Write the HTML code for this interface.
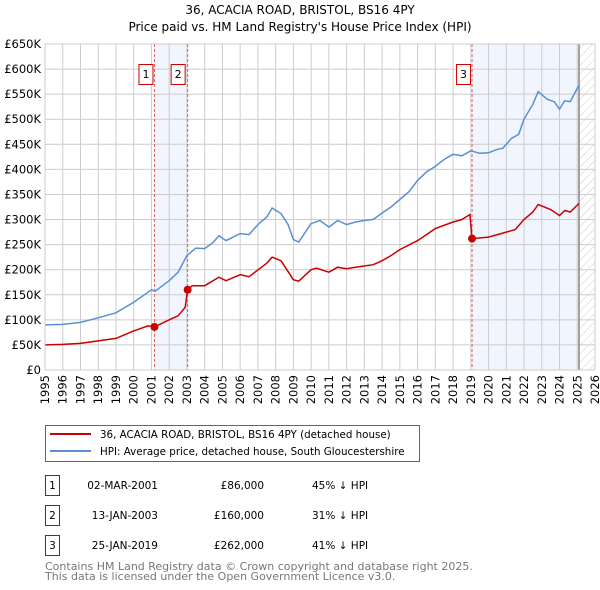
<!DOCTYPE html>
<html><head><meta charset="utf-8"><style>
body{margin:0;background:#fff;}
svg{display:block;font-family:"DejaVu Sans","Liberation Sans",sans-serif;}
</style></head><body>
<svg id="c" width="600" height="590" viewBox="0 0 600 590">
<defs><pattern id="hatch" width="6" height="6" patternUnits="userSpaceOnUse" patternTransform="rotate(45)"><line x1="0" y1="0" x2="0" y2="6" stroke="#ccc" stroke-width="1"/></pattern></defs>
<text x="300" y="14" text-anchor="middle" font-size="12">36, ACACIA ROAD, BRISTOL, BS16 4PY</text>
<text x="300" y="31" text-anchor="middle" font-size="12">Price paid vs. HM Land Registry's House Price Index (HPI)</text>
<g id="plot"></g>
<g>
<rect x="45.5" y="425.5" width="374" height="36" fill="#fff" stroke="#666"/>
<line x1="50" y1="434" x2="91" y2="434" stroke="#cc0000" stroke-width="2"/>
<text x="100" y="438" font-size="10.3">36, ACACIA ROAD, BRISTOL, BS16 4PY (detached house)</text>
<line x1="50" y1="451" x2="91" y2="451" stroke="#5b8fd4" stroke-width="2"/>
<text x="100" y="455" font-size="10.3">HPI: Average price, detached house, South Gloucestershire</text>
</g>
<g id="table" font-size="10.5"></g>
<text x="45" y="570" font-size="11" fill="#777">Contains HM Land Registry data © Crown copyright and database right 2025.</text>
<text x="45" y="580" font-size="11" fill="#777">This data is licensed under the Open Government Licence v3.0.</text>
</svg>
<script>
const hpiYears=[1995,1996,1997,1998,1999,2000,2001,2001.2,2002,2002.5,2003,2003.5,2004,2004.5,2004.8,2005.2,2006,2006.5,2007,2007.5,2007.8,2008.3,2008.7,2009,2009.3,2010,2010.5,2011,2011.5,2012,2012.5,2013,2013.5,2014,2014.5,2015,2015.5,2016,2016.5,2017,2017.5,2018,2018.5,2019,2019.5,2020,2020.5,2020.8,2021.3,2021.7,2022,2022.5,2022.8,2023.3,2023.7,2024,2024.3,2024.6,2025.1];
const hpiValues=[90,91,95,104,114,135,160,157,178,195,228,243,242,255,268,258,272,270,290,305,323,312,290,260,255,292,298,285,298,290,295,298,300,313,325,340,355,378,395,406,420,430,427,437,432,433,440,442,462,470,500,530,555,540,535,520,537,535,568];
const ppYears=[1995,1996,1997,1998,1999,2000,2000.8,2001.17,2002,2002.5,2002.9,2003.04,2003.3,2004,2004.8,2005.2,2006,2006.5,2007.5,2007.8,2008.3,2009,2009.3,2010,2010.3,2011,2011.5,2012,2012.5,2013.5,2014,2014.5,2015,2016,2016.5,2017,2018,2018.5,2018.95,2019.07,2020,2020.5,2021,2021.5,2022,2022.5,2022.8,2023.5,2024,2024.3,2024.6,2025.1];
const ppValues=[50,51,53,58,63,78,88,86,100,108,125,160,168,168,185,178,190,186,213,225,218,180,177,200,203,195,205,202,205,210,218,228,240,258,270,282,295,300,310,262,265,270,275,280,300,315,330,320,308,318,315,332];
const sales=[{n:"1",year:2001.17,value:86,date:"02-MAR-2001",price:"£86,000",pct:"45% ↓ HPI"},{n:"2",year:2003.04,value:160,date:"13-JAN-2003",price:"£160,000",pct:"31% ↓ HPI"},{n:"3",year:2019.07,value:262,date:"25-JAN-2019",price:"£262,000",pct:"41% ↓ HPI"}];
const yTicks=[0,50,100,150,200,250,300,350,400,450,500,550,600,650];
const xTicks=[1995,1996,1997,1998,1999,2000,2001,2002,2003,2004,2005,2006,2007,2008,2009,2010,2011,2012,2013,2014,2015,2016,2017,2018,2019,2020,2021,2022,2023,2024,2025,2026];
const dataEnd=2025.1;
const X0=45,X1=595,Y0=370,Y1=44;
const xs=y=>X0+(y-1995)/(2026-1995)*(X1-X0);
const ys=v=>Y0-v/650*(Y0-Y1);
const NS="http://www.w3.org/2000/svg";
const g=document.getElementById('plot');
function mk(tag,attrs,parent){const e=document.createElementNS(NS,tag);for(const k in attrs)e.setAttribute(k,attrs[k]);(parent||g).appendChild(e);return e;}
let s=mk('rect',{x:xs(sales[0].year),y:Y1,width:xs(sales[1].year)-xs(sales[0].year),height:Y0-Y1,fill:'#eef3fc',opacity:0.8});


s=mk('rect',{x:xs(sales[2].year),y:Y1,width:xs(dataEnd)-xs(sales[2].year),height:Y0-Y1,fill:'#eef3fc',opacity:0.8});


s=mk('rect',{x:xs(dataEnd),y:Y1,width:X1-xs(dataEnd),height:Y0-Y1,fill:'url(#hatch)'});


yTicks.forEach(v=>{
 const l=mk('line',{x1:X0,x2:X1,y1:ys(v),y2:ys(v),stroke:'#ccc','stroke-width':1});
 
 
 const t=mk('text',{x:X0-4,y:ys(v)+4,'text-anchor':'end','font-size':11.5});
 
 
 t.textContent=v===0?'£0':'£'+v+'K';
});
xTicks.forEach(yr=>{
 const l=mk('line',{x1:xs(yr),x2:xs(yr),y1:Y1,y2:Y0,stroke:'#ccc','stroke-width':1});
 
 
 const t=mk('text',{x:0,y:0,'text-anchor':'end','font-size':11.5,transform:`translate(${xs(yr)+4},375) rotate(-90)`});
 
 
 t.textContent=yr;
});
let dl=mk('line',{x1:xs(dataEnd),x2:xs(dataEnd),y1:Y1,y2:Y0,stroke:'#888','stroke-width':1.5});


sales.forEach(sl=>{
 const l=mk('line',{x1:xs(sl.year),x2:xs(sl.year),y1:Y1,y2:Y0,stroke:'#e06060','stroke-width':1,'stroke-dasharray':'3,2'});
 
 
});
function path(xa,va){return xa.map((x,i)=>(i?'L':'M')+xs(x).toFixed(1)+','+ys(va[i]).toFixed(1)).join('');}
let hp=mk('path',{d:path(hpiYears,hpiValues),fill:'none',stroke:'#5b8fd4','stroke-width':1.5});


let pp=mk('path',{d:path(ppYears,ppValues),fill:'none',stroke:'#cc0000','stroke-width':1.5});


sales.forEach(sl=>{
 const c=mk('circle',{cx:xs(sl.year),cy:ys(sl.value),r:4,fill:'#cc0000'});
 
 
 const bxx=sl.n==='2'?xs(sl.year)-17:xs(sl.year)-16;
 const r=mk('rect',{x:bxx+0.5,y:64.5,width:14,height:20,fill:'#fff',stroke:'#cc0000'});
 
 
 const t=mk('text',{x:bxx+7.5,y:78,'text-anchor':'middle','font-size':11});
 
 
 t.textContent=sl.n;
});
let ax=mk('rect',{x:X0,y:Y1,width:X1-X0,height:Y0-Y1,fill:'none',stroke:'#ccc'});


const tb=document.getElementById('table');
sales.forEach((sl,i)=>{
 const y=475+i*30;
 const r=mk('rect',{x:45.5,y:y+0.5,width:14,height:20,fill:'#fff',stroke:'#cc0000'},tb);
 
 
 const a=mk('text',{x:52.5,y:y+14,'text-anchor':'middle'},tb);
 
 
 a.textContent=sl.n;
 const d=mk('text',{x:158,y:y+14,'text-anchor':'end'},tb);
 
 
 d.textContent=sl.date;
 const p=mk('text',{x:264,y:y+14,'text-anchor':'end'},tb);
 
 
 p.textContent=sl.price;
 const h=mk('text',{x:312,y:y+14},tb);
 
 
 h.textContent=sl.pct;
});
</script>
</body></html>
